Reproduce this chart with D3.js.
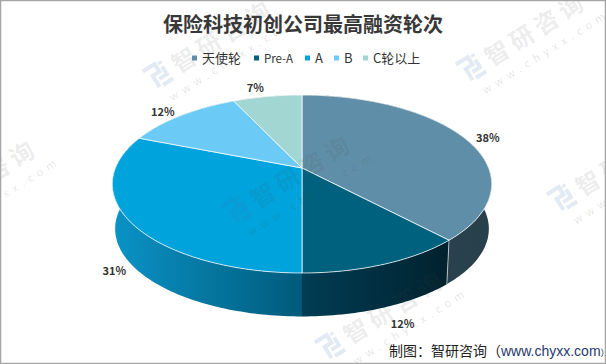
<!DOCTYPE html>
<html>
<head>
<meta charset="utf-8">
<script src="https://cdn.jsdelivr.net/npm/d3@7"></script>
<style>
  html, body { margin: 0; padding: 0; background: #fff; }
  svg { display: block; }
  text { font-family: "Noto Sans CJK SC", "Noto Sans", sans-serif; }
</style>
</head>
<body>
<svg id="chart" width="606" height="364"></svg>
<script>
const categories = ["天使轮", "Pre-A", "A", "B", "C轮以上"];
const shares = [38, 12, 31, 12, 7];
const topColors = ["#5f8fa8", "#00617f", "#00a3dc", "#6bcbf6", "#a1d6d3"];

const width = 606, height = 364;
const cx = 302, cy = 168;      // where the slices meet
const a = 186.6, b = 86.1, k = 0.18;   // tilted disc, k is the perspective
const depth = 45, lowScale = 0.985;

const svg = d3.select("#chart");
const defs = svg.append("defs");

svg.append("rect").attr("width", width).attr("height", height).attr("fill", "#fff");

// a point on the disc, t clockwise from 12 o'clock, r from 0 to 1
function project(t, r, low) {
  const u = r * Math.sin(t), v = -r * Math.cos(t);
  const w = 1 - k * v;
  const s = low ? lowScale : 1;
  return [cx + s * a * u / w, cy + s * b * v / w + (low ? depth : 0)];
}

function arcPoints(t0, t1, low) {
  const n = Math.max(2, Math.ceil((t1 - t0) / 0.02));
  return d3.range(n + 1).map(i => project(t0 + (t1 - t0) * i / n, 1, low));
}

const line = d3.line();

const slices = d3.pie().sort(null).value(d => d)(shares);

// side gradients, dark toward the front right
const sideStops = [
  ["#2b424e", "#27404b"],
  ["#013d54", "#01222f"],
  ["#0a93c6", "#005a7b"],
  ["#0a93c6", "#0a93c6"],
  ["#7fb0ad", "#7fb0ad"]
];
const sideRange = [[440, 492], [302, 447], [113, 302], [113, 240], [235, 302]];
sideStops.forEach((st, i) => {
  const g = defs.append("linearGradient")
    .attr("id", "side" + i)
    .attr("gradientUnits", "userSpaceOnUse")
    .attr("x1", sideRange[i][0]).attr("x2", sideRange[i][1])
    .attr("y1", 0).attr("y2", 0);
  g.append("stop").attr("offset", 0).attr("stop-color", st[0]);
  g.append("stop").attr("offset", 1).attr("stop-color", st[1]);
});

const chart = svg.append("g");

// walls first, the top faces hide the far ones
chart.selectAll("path.wall")
  .data(slices)
  .join("path")
  .attr("class", "wall")
  .attr("fill", (d, i) => `url(#side${i})`)
  .attr("d", d => line(arcPoints(d.startAngle, d.endAngle, false)
    .concat(arcPoints(d.startAngle, d.endAngle, true).reverse())) + "Z");

// seams on the front wall
chart.selectAll("line.seam")
  .data(slices.filter(d => d.endAngle > Math.PI * 0.5 && d.endAngle <= Math.PI))
  .join("line")
  .attr("class", "seam")
  .attr("x1", d => project(d.endAngle, 1, false)[0])
  .attr("y1", d => project(d.endAngle, 1, false)[1])
  .attr("x2", d => project(d.endAngle, 1, true)[0])
  .attr("y2", d => project(d.endAngle, 1, true)[1])
  .attr("stroke", "#fff")
  .attr("stroke-opacity", (d, i) => i == 0 ? 0.6 : 1)
  .attr("stroke-width", 1);

chart.selectAll("path.face")
  .data(slices)
  .join("path")
  .attr("class", "face")
  .attr("fill", (d, i) => topColors[i])
  .attr("stroke", "#fff")
  .attr("stroke-opacity", 0.75)
  .attr("stroke-width", 1)
  .attr("stroke-linejoin", "round")
  .attr("d", d => line([[cx, cy]].concat(arcPoints(d.startAngle, d.endAngle, false))) + "Z");

// data labels, nudged from the rim point of each slice
const labelNudge = [[23, 1], [18, 61], [-16, 50], [-18, -3], [-12, -8]];
chart.selectAll("text.value")
  .data(slices)
  .join("text")
  .attr("class", "value")
  .attr("x", (d, i) => project((d.startAngle + d.endAngle) / 2, 1, false)[0] + labelNudge[i][0])
  .attr("y", (d, i) => project((d.startAngle + d.endAngle) / 2, 1, false)[1] + labelNudge[i][1])
  .attr("text-anchor", "middle")
  .attr("dominant-baseline", "middle")
  .attr("font-size", 11)
  .attr("font-weight", 600)
  .attr("fill", "#333")
  .text(d => d.data + "%");

// title
svg.append("text")
  .attr("x", 303).attr("y", 32)
  .attr("text-anchor", "middle")
  .attr("font-size", 20)
  .attr("font-weight", 700)
  .attr("fill", "#383838")
  .text("保险科技初创公司最高融资轮次");

// legend
const legendX = [192, 254, 305, 334, 363];
const legend = svg.selectAll("g.legend")
  .data(categories)
  .join("g")
  .attr("class", "legend")
  .attr("transform", (d, i) => `translate(${legendX[i]},58)`);
legend.append("rect")
  .attr("x", 0).attr("y", -2.5)
  .attr("width", 5).attr("height", 5)
  .attr("fill", (d, i) => topColors[i]);
legend.append("text")
  .attr("x", 10).attr("y", 5)
  .attr("font-size", d => d == "Pre-A" ? 11.5 : 13)
  .attr("fill", "#333")
  .text(d => d);

// footer
const foot = svg.append("text")
  .attr("x", 389).attr("y", 356)
  .attr("font-size", 14)
  .attr("fill", "#222");
foot.append("tspan").text("制图：智研咨询（");
foot.append("tspan").attr("fill", "#1f3a6e")
  .style("font-family", "'Liberation Sans'")
  .text("www.chyxx.com");
foot.append("tspan").attr("font-size", 9).text("）");

// watermarks over everything
const stamps = [[158, 75], [471, 68], [237, 210], [-78, 215], [562, 198], [330, 346]];
const stamp = svg.selectAll("g.stamp")
  .data(stamps)
  .join("g")
  .attr("class", "stamp")
  .attr("transform", d => `translate(${d[0]},${d[1]}) rotate(-32)`)
  .style("pointer-events", "none");
stamp.append("path")
  .attr("d", "M-11,-11H3V-2H-5V11 M-1,11H11 M-1,4H8V-5 M8,-11V-8")
  .attr("fill", "none")
  .attr("stroke", "#3f6fb0")
  .attr("stroke-opacity", 0.15)
  .attr("stroke-width", 4);
stamp.append("text")
  .attr("x", 18).attr("y", 10)
  .attr("font-size", 24)
  .attr("font-weight", 700)
  .attr("letter-spacing", 5)
  .attr("fill", "#444")
  .attr("fill-opacity", 0.11)
  .text("智研咨询");
stamp.append("text")
  .attr("x", -2).attr("y", 30)
  .attr("font-size", 11)
  .attr("letter-spacing", 5)
  .attr("fill", "#444")
  .attr("fill-opacity", 0.14)
  .text("www.chyxx.com");

// frame
svg.append("rect")
  .attr("x", 0.5).attr("y", 0.5)
  .attr("width", width - 1).attr("height", height - 1)
  .attr("fill", "none")
  .attr("stroke", "#a6a6a6")
  .attr("stroke-width", 1.5);
</script>
</body>
</html>
